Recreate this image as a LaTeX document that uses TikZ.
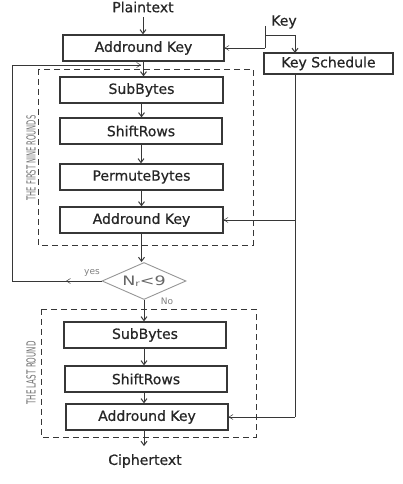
\documentclass[tikz,border=0pt]{standalone}
\usepackage{fontspec}
\usepackage{graphicx}
\setmainfont{DejaVu Sans}
\newfontfamily\medfont[FakeBold=0.7]{DejaVu Sans}
\usetikzlibrary{shapes.geometric,arrows.meta}
\definecolor{ln}{RGB}{55,55,55}
\definecolor{lt}{RGB}{150,150,150}
\begin{document}
\begin{tikzpicture}[x=1pt,y=-1pt,
  stepbox/.style={draw=ln,line width=1.2pt,minimum height=26pt,inner sep=0pt,
    font=\medfont\fontsize{14}{14}\selectfont,text=black!85},
  lbl/.style={font=\medfont\fontsize{14}{14}\selectfont,text=black!85,inner sep=0pt},
  arr/.style={draw=ln,line width=1pt,-{Straight Barb[length=4pt,width=6pt]}},
  larr/.style={draw=ln,line width=0.8pt,-{Straight Barb[length=4pt,width=5pt,line width=0.5pt]}},
  ln/.style={draw=ln,line width=0.9pt},
  dbox/.style={draw=ln,line width=0.8pt,dash pattern=on 6pt off 4pt},
  side/.style={rotate=90,text=black!55,inner sep=0pt}
]
\useasboundingbox (0,0) rectangle (402,484);
% dashed frames
\draw[dbox] (38,69) rectangle (253,245);
\draw[dbox] (41,309) rectangle (256,437);
\node[side] (lab1) at (31,158) {\scalebox{0.54}[1]{\fontsize{12.5}{12.5}\selectfont THE FIRST NINE ROUNDS}};
\node[side] (lab2) at (31,373) {\scalebox{0.57}[1]{\fontsize{12.5}{12.5}\selectfont THE LAST ROUND}};
% nodes
\node[lbl] (pt) at (143,7) {Plaintext};
\node[stepbox,minimum width=161pt] (ak1) at (143.5,48) {Addround Key};
\node[lbl] (key) at (284,22) {Key};
\node[stepbox,minimum width=129pt,minimum height=21pt] (ks) at (328.5,63.5) {Key Schedule};
\node[stepbox,minimum width=163pt] (sb1) at (141.5,90) {SubBytes};
\node[stepbox,minimum width=162pt] (sr1) at (141,131) {ShiftRows};
\node[stepbox,minimum width=163pt] (pb1) at (141.5,177) {PermuteBytes};
\node[stepbox,minimum width=163pt] (ak2) at (141.5,220) {Addround Key};
\node[diamond,draw=lt,line width=0.9pt,minimum width=84pt,minimum height=37pt,inner sep=0pt,aspect=2.2,
  text=black!60] (dia) at (144,281) {\scalebox{1.35}[1]{\fontsize{13}{13}\selectfont N\raisebox{-0.2ex}{\fontsize{8}{8}\selectfont r}<9}};
\node[stepbox,minimum width=162pt] (sb2) at (145,335) {SubBytes};
\node[stepbox,minimum width=162pt] (sr2) at (146,379) {ShiftRows};
\node[stepbox,minimum width=162pt] (ak3) at (147,417) {Addround Key};
\node[lbl] (ct) at (145,461) {Ciphertext};
\node[font=\fontsize{9}{9}\selectfont,text=black!50,inner sep=0pt] (yes) at (92,273) {yes};
\node[font=\fontsize{9}{9}\selectfont,text=black!50,inner sep=0pt] (no) at (167,301) {No};
% coordinates
\coordinate (keytop) at (265,26);
\coordinate (keyj) at (265,35);
\coordinate (ksin) at (295,53);
\coordinate (ksout) at (295,74);
\coordinate (loopl) at (12,281);
\coordinate (yesarr) at (66,281);
\coordinate (loopin) at (141,65);
% main flow
\draw[arr] (pt.south |- 0,17) -- (pt.south |- ak1.north);
\draw[arr] (ak1.south) -- (ak1.south |- sb1.north);
\draw[arr] (sb1.south) -- (sb1.south |- sr1.north);
\draw[arr] (sr1.south) -- (sr1.south |- pb1.north);
\draw[arr] (pb1.south) -- (pb1.south |- ak2.north);
\draw[arr] (ak2.south) -- (ak2.south |- dia.north);
\draw[arr] (dia.south) -- (dia.south |- sb2.north);
\draw[arr] (sb2.south -| dia.south) -- (dia.south |- sr2.north);
\draw[arr] (sr2.south -| dia.south) -- (dia.south |- ak3.north);
\draw[arr] (ak3.south -| dia.south) -- (dia.south |- 0,446);
% loop
\draw[ln] (dia.west) -- (loopl) |- (loopin);
\draw[larr] (dia.west) -- (yesarr);
\draw[larr] (loopl |- loopin) -- (loopin);
% key
\draw[ln] (keytop) -- (keytop |- ak1.east);
\draw[larr] (keytop |- ak1.east) -- (ak1.east);
\draw[ln] (keyj) -- (keyj -| ksin);
\draw[arr] (keyj -| ksin) -- (ksin);
\draw[ln] (ksout) -- (ksout |- ak3.east);
\draw[larr] (ksout |- ak2.east) -- (ak2.east);
\draw[larr] (ksout |- ak3.east) -- (ak3.east);
\end{tikzpicture}
\end{document}
